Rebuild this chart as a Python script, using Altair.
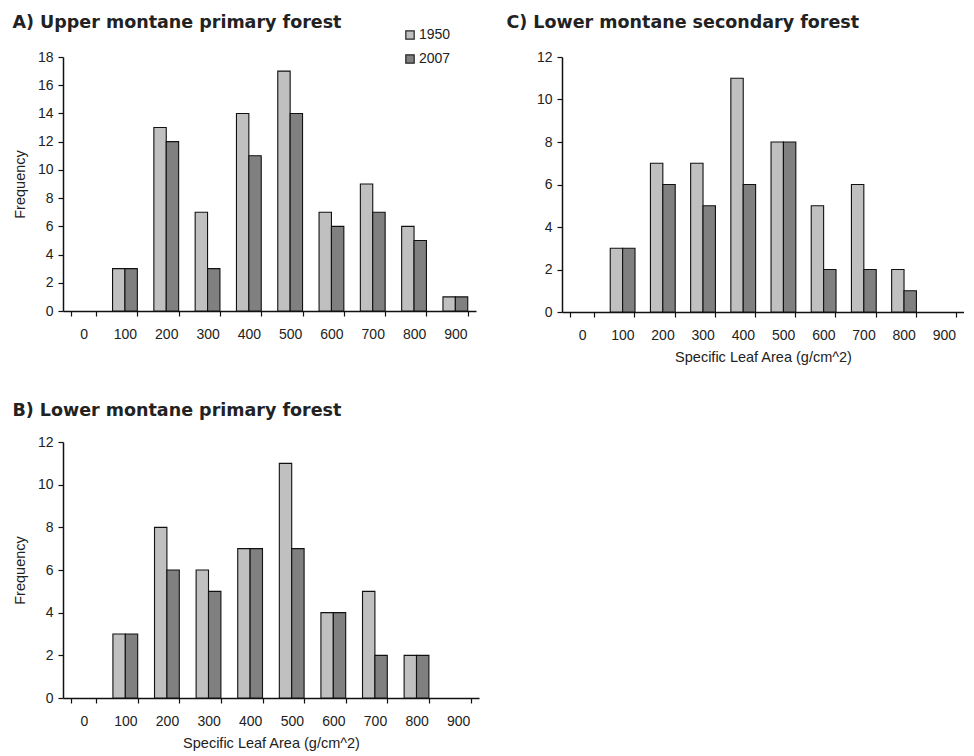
import altair as alt
import pandas as pd

bins = ["0", "100", "200", "300", "400", "500", "600", "700", "800", "900"]
years = ["1950", "2007"]

upper_primary_1950 = [0, 3, 13, 7, 14, 17, 7, 9, 6, 1]
upper_primary_2007 = [0, 3, 12, 3, 11, 14, 6, 7, 5, 1]
lower_secondary_1950 = [0, 3, 7, 7, 11, 8, 5, 6, 2, 0]
lower_secondary_2007 = [0, 3, 6, 5, 6, 8, 2, 2, 1, 0]
lower_primary_1950 = [0, 3, 8, 6, 7, 11, 4, 5, 2, 0]
lower_primary_2007 = [0, 3, 6, 5, 7, 7, 4, 2, 2, 0]

FONT = "Liberation Sans"
TFONT = "DejaVu Sans"
TXT = "#222222"


def frame(v1950, v2007):
    rows = []
    for b, a, c in zip(bins, v1950, v2007):
        rows.append({"bin": b, "year": "1950", "freq": a})
        rows.append({"bin": b, "year": "2007", "freq": c})
    return pd.DataFrame(rows)


def panel(df, title, ymax, width, height, ytitle, xtitle, legend, tdx=0, toffset=19):
    color_legend = None
    if legend:
        color_legend = alt.Legend(
            title=None, orient="none", legendX=340, legendY=-29,
            symbolType="square", symbolSize=70, symbolStrokeColor="#222",
            symbolStrokeWidth=1.2, labelFontSize=14, labelFont=FONT,
            labelColor=TXT, rowPadding=10, labelOffset=2, symbolOpacity=1,
        )
    x_axis = alt.Axis(
        title=xtitle, labelAngle=0, tickBand="extent", tickSize=5,
        labelPadding=11, titlePadding=8,
    )
    y_axis = alt.Axis(
        title=ytitle, values=list(range(0, ymax + 1, 2)), tickSize=5,
        labelPadding=5, titlePadding=10, grid=False,
    )
    chart = alt.Chart(df).transform_filter("datum.freq > 0").mark_bar(stroke="#111", strokeWidth=1.1).encode(
        x=alt.X("bin:N", sort=bins, scale=alt.Scale(domain=bins, paddingInner=0.4, paddingOuter=0.2), axis=x_axis),
        xOffset=alt.XOffset("year:N", sort=years, scale=alt.Scale(domain=years, padding=0)),
        y=alt.Y("freq:Q", scale=alt.Scale(domain=[0, ymax], nice=False), axis=y_axis),
        color=alt.Color("year:N", scale=alt.Scale(domain=years, range=["#c0c0c0", "#808080"]), legend=color_legend),
    ).properties(
        width=width, height=height,
        title=alt.TitleParams(title, anchor="start", frame="bounds", fontSize=17.5, font=TFONT,
                              fontWeight="bold", color=TXT, dx=tdx, offset=toffset),
    )
    return chart


a = panel(frame(upper_primary_1950, upper_primary_2007), "A) Upper montane primary forest", 18, 413, 254,
          "Frequency", None, True)
c = panel(frame(lower_secondary_1950, lower_secondary_2007), "C) Lower montane secondary forest", 12, 402, 255,
          None, "Specific Leaf Area (g/cm^2)", False, tdx=-30)
b = panel(frame(lower_primary_1950, lower_primary_2007), "B) Lower montane primary forest", 12, 416, 256,
          "Frequency", "Specific Leaf Area (g/cm^2)", False, toffset=16)

top = alt.hconcat(a, c, spacing=30)
chart = alt.vconcat(top, b, spacing=37).configure_view(stroke=None).configure_axis(
    domainColor="#111", domainWidth=1.5, tickColor="#111", tickWidth=1.2,
    labelFont=FONT, labelFontSize=14, labelColor=TXT,
    titleFont=FONT, titleFontSize=14.5, titleFontWeight="normal", titleColor=TXT,
).properties(padding={"left": 4, "top": 5, "right": 0, "bottom": 5})

chart.save("out.html", embed_options={"renderer": "svg", "actions": False})
